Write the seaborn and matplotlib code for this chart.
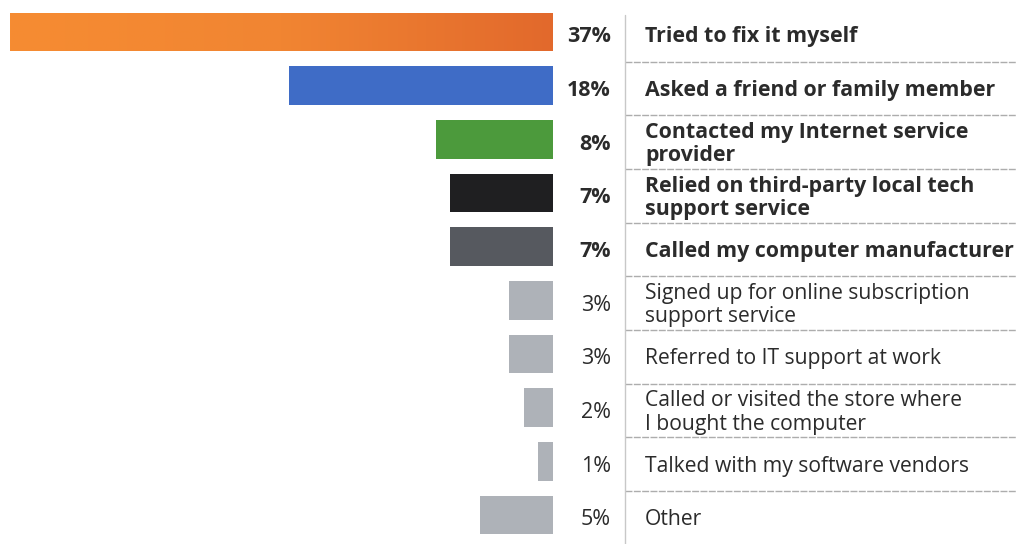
import numpy as np
import pandas as pd
import matplotlib
matplotlib.use("Agg")
import matplotlib.pyplot as plt
import matplotlib.transforms as mtransforms
import seaborn as sns

# Survey responses: what people did to get their computer fixed
categories = [
    "Tried to fix it myself",
    "Asked a friend or family member",
    "Contacted my Internet service\nprovider",
    "Relied on third-party local tech\nsupport service",
    "Called my computer manufacturer",
    "Signed up for online subscription\nsupport service",
    "Referred to IT support at work",
    "Called or visited the store where\nI bought the computer",
    "Talked with my software vendors",
    "Other",
]
percent = [37, 18, 8, 7, 7, 3, 3, 2, 1, 5]
bold_rows = [True, True, True, True, True, False, False, False, False, False]
bar_colors = ["#EE7A2E", "#3F6CC6", "#4C9A3C", "#1F1F21", "#56595F",
              "#AEB2B8", "#AEB2B8", "#AEB2B8", "#AEB2B8", "#AEB2B8"]

df = pd.DataFrame({"category": categories, "percent": percent})

sns.set_theme(style="white")
plt.rcParams["font.family"] = ["Open Sans", "DejaVu Sans"]

W, H = 1016, 544
fig = plt.figure(figsize=(W / 100, H / 100), dpi=100)
ax = fig.add_axes([0, 0, 1, 1])

sns.barplot(data=df, x="percent", y="category", hue="category",
            palette=bar_colors, legend=False, width=0.72, ax=ax,
            orient="h", saturation=1, edgecolor="none")

# pixel geometry: zero of the bars at x=553px, 37% reaches x=10px
px_per_pct = 543 / 37
zero_px = 553
row_px = 53.67
first_px = 32
xlim = (zero_px / px_per_pct, -(W - zero_px) / px_per_pct)
ylim = ((H - first_px) / row_px, -first_px / row_px)

# orange gradient on the leading bar (lighter towards its far end)
lead = ax.patches[0]
grad = np.linspace(0, 1, 256).reshape(1, -1)
cmap = matplotlib.colors.LinearSegmentedColormap.from_list(
    "lead", ["#E2692C", "#F18532", "#F68C32"])
bx0, by0 = lead.get_x(), lead.get_y()
bw, bh = lead.get_width(), lead.get_height()
img = ax.imshow(grad, cmap=cmap, aspect="auto",
                extent=(bx0, bx0 + bw, by0 + bh, by0), zorder=lead.get_zorder() + 0.1)
img.set_clip_path(lead)
ax.set_xlim(*xlim)
ax.set_ylim(*ylim)
ax.axis("off")

tr = mtransforms.blended_transform_factory(fig.transFigure, ax.transData)
text_color = "#2B2B2B"
text_dy = 0.09
for i, (cat, val, b) in enumerate(zip(categories, percent, bold_rows)):
    weight = "bold" if b else "normal"
    size = 15.4 if b else 15.2
    ax.text(611 / W, i + text_dy, f"{val}%", transform=tr, ha="right", va="center",
            fontsize=15.5, fontweight=weight, color=text_color)
    ax.text(645 / W, i + text_dy, cat, transform=tr, ha="left", va="center",
            fontsize=size, fontweight=weight, color=text_color, linespacing=1.14)

# faint separators between rows
for i in range(len(categories) - 1):
    ax.plot([625 / W, 1.0], [i + 0.5 + 0.05, i + 0.5 + 0.05], transform=tr,
            color="#ADADAD", lw=1.0, ls=(0, (5, 1)))

# vertical divider between values and labels
ax.plot([625 / W, 625 / W], [(15 - first_px) / row_px, (H - first_px) / row_px],
        transform=tr, color="#C8C8C8", lw=1.0)

fig.savefig("out.png", dpi=100, facecolor="white")
